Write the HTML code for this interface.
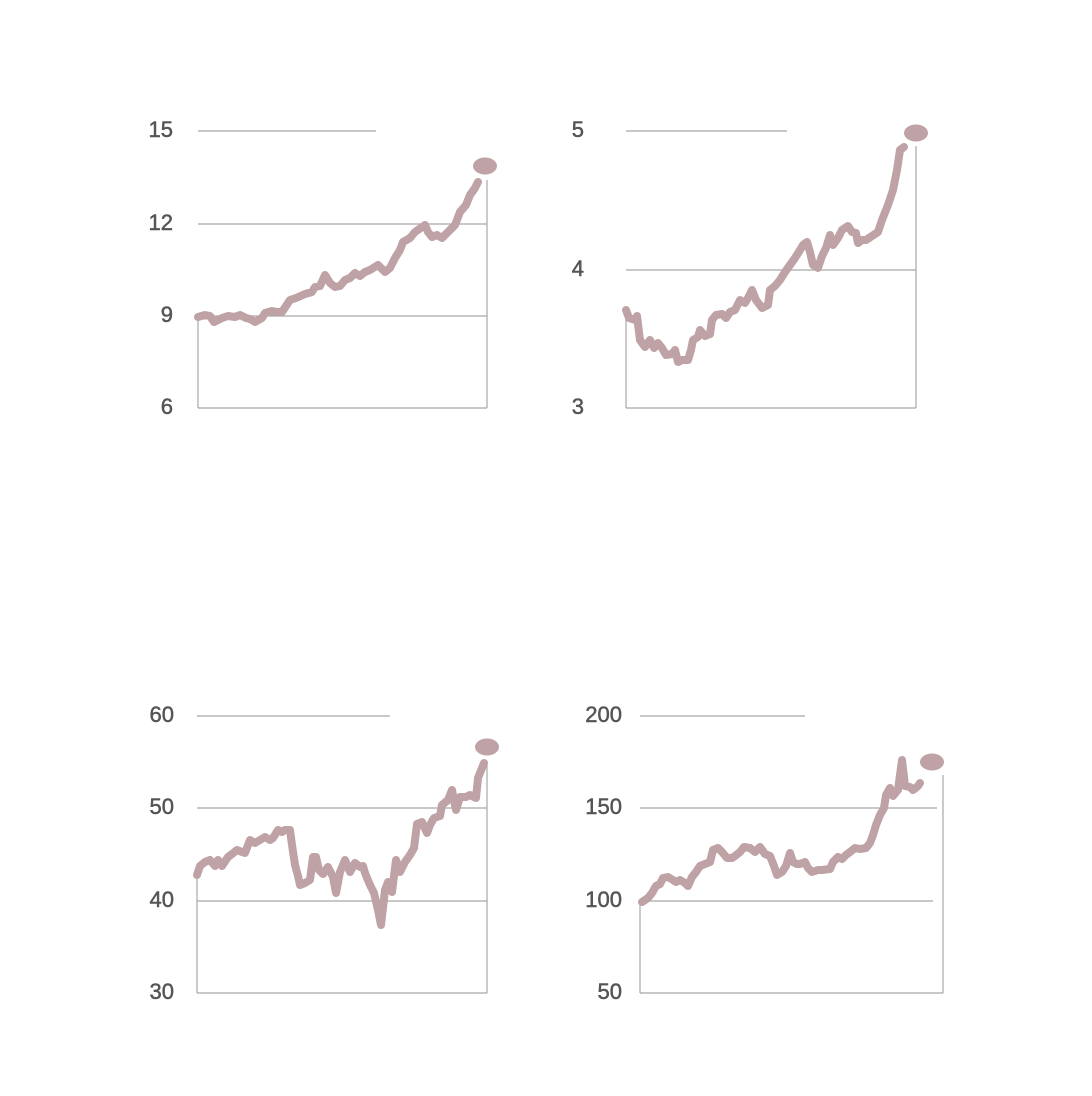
<!DOCTYPE html>
<html><head><meta charset="utf-8"><style>
html,body{margin:0;padding:0;background:#fff}
svg{display:block}
text{font-family:"Liberation Sans",sans-serif;font-size:22px;fill:#555;stroke:#555;stroke-width:0.5;text-anchor:end}
.g{stroke:#a8a8a8;stroke-width:1.2;fill:none}
.l{stroke:#bfa2a5;stroke-width:8;fill:none;stroke-linejoin:round;stroke-linecap:round}
.d{fill:#bfa2a5}
</style></head><body>
<svg width="1092" height="1096" viewBox="0 0 1092 1096">
<!-- chart 1 -->
<g>
<text x="173" y="137">15</text><text x="173" y="230">12</text><text x="173" y="322">9</text><text x="173" y="414">6</text>
<line class="g" x1="198" y1="131" x2="376" y2="131"/>
<line class="g" x1="198" y1="224" x2="487" y2="224"/>
<line class="g" x1="198" y1="316" x2="487" y2="316"/>
<line class="g" x1="198" y1="408" x2="487" y2="408"/>
<line class="g" x1="198" y1="316" x2="198" y2="408"/>
<line class="g" x1="487" y1="180" x2="487" y2="408"/>
<polyline class="l" points="198,317 205,315 210,316 214,322 222,318 228,316 235,317 240,315 246,318 250,319 255,322 262,318 265,313 272,311 277,312 282,312 290,300 296,298 305,294 312,292 315,287 320,286 325,275 330,283 335,287 340,286 345,280 350,278 355,273 360,276 365,272 370,270 378,265 385,272 390,268 395,258 400,250 403,242 410,238 415,232 425,225 428,232 432,237 437,235 442,238 448,232 455,225 460,212 466,205 470,195 475,188 478,182"/>
<ellipse class="d" cx="485" cy="166" rx="12" ry="8.5"/>
</g>
<!-- chart 2 -->
<g>
<text x="584" y="137">5</text><text x="584" y="276">4</text><text x="584" y="414">3</text>
<line class="g" x1="626" y1="131" x2="787" y2="131"/>
<line class="g" x1="626" y1="270" x2="916" y2="270"/>
<line class="g" x1="626" y1="408" x2="916" y2="408"/>
<line class="g" x1="626" y1="310" x2="626" y2="408"/>
<line class="g" x1="916" y1="146" x2="916" y2="408"/>
<polyline class="l" points="626,310 629,318 635,320 637,316 640,340 645,347 650,340 654,348 658,343 662,348 666,355 672,354 675,350 678,362 682,360 688,360 691,350 693,340 698,337 700,330 705,336 710,334 712,320 716,315 722,314 726,318 730,312 735,310 740,300 745,303 748,298 752,290 756,300 762,308 768,305 770,290 775,286 780,280 785,272 790,265 795,258 800,250 803,245 807,242 810,252 813,265 818,268 822,256 826,248 830,235 833,245 838,238 842,230 848,226 852,232 856,233 858,243 862,240 866,240 872,236 878,232 882,220 888,205 893,190 897,170 900,150 904,147"/>
<ellipse class="d" cx="916" cy="133" rx="12" ry="8.5"/>
</g>
<!-- chart 3 -->
<g>
<text x="174" y="722">60</text><text x="174" y="814">50</text><text x="174" y="907">40</text><text x="174" y="999">30</text>
<line class="g" x1="197" y1="716" x2="390" y2="716"/>
<line class="g" x1="197" y1="808" x2="487" y2="808"/>
<line class="g" x1="197" y1="901" x2="487" y2="901"/>
<line class="g" x1="197" y1="993" x2="487" y2="993"/>
<line class="g" x1="197" y1="875" x2="197" y2="993"/>
<line class="g" x1="487" y1="762" x2="487" y2="993"/>
<polyline class="l" points="197,875 200,866 205,862 210,860 215,866 218,860 222,866 228,857 232,854 237,850 242,852 245,853 250,840 255,843 260,840 265,837 270,840 273,838 278,830 282,832 285,830 290,830 292,845 295,865 298,876 300,885 305,883 310,880 313,857 316,857 319,870 323,874 328,867 333,877 336,893 340,872 345,860 350,872 355,863 360,867 363,866 365,873 370,885 374,893 378,910 381,925 385,890 388,882 392,892 396,860 400,872 405,862 410,855 414,848 417,824 422,822 427,833 430,825 434,818 440,816 442,805 448,800 452,790 456,810 460,797 466,797 470,795 476,798 478,778 484,763"/>
<ellipse class="d" cx="487" cy="747" rx="12" ry="8.5"/>
</g>
<!-- chart 4 -->
<g>
<text x="622" y="722">200</text><text x="622" y="814">150</text><text x="622" y="907">100</text><text x="622" y="999">50</text>
<line class="g" x1="640" y1="716" x2="805" y2="716"/>
<line class="g" x1="640" y1="808" x2="937" y2="808"/>
<line class="g" x1="640" y1="901" x2="933" y2="901"/>
<line class="g" x1="640" y1="993" x2="943" y2="993"/>
<line class="g" x1="640" y1="902" x2="640" y2="993"/>
<line class="g" x1="943" y1="775" x2="943" y2="993"/>
<polyline class="l" points="642,902 648,898 652,893 656,886 660,884 663,878 668,877 673,880 676,882 680,880 685,883 688,886 692,877 696,872 700,866 705,864 710,862 713,850 718,848 722,852 727,858 732,858 735,856 740,852 744,847 750,848 755,852 760,847 765,854 770,856 774,866 777,875 782,872 786,866 790,853 793,862 797,864 800,864 805,862 808,868 812,872 818,870 822,870 830,869 833,862 838,857 842,859 846,855 850,852 855,848 860,849 866,848 870,843 873,835 876,825 880,815 884,808 886,795 890,788 893,796 898,790 900,775 902,760 905,786 910,787 913,790 918,786 920,783"/>
<ellipse class="d" cx="932" cy="762" rx="12" ry="8.5"/>
</g>
</svg>
</body></html>
